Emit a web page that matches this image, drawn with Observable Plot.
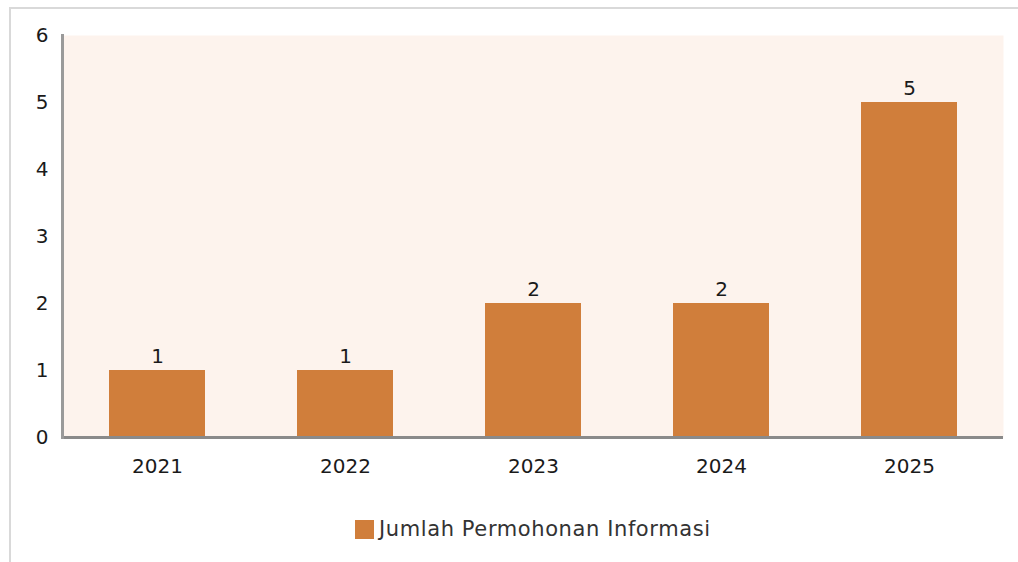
<!DOCTYPE html>
<html>
<head>
<meta charset="utf-8">
<script src="https://cdn.jsdelivr.net/npm/d3@7"></script>
<script src="https://cdn.jsdelivr.net/npm/@observablehq/plot@0.6"></script>
<style>
  html, body { margin: 0; padding: 0; background: #fff; width: 1018px; height: 562px; overflow: hidden; }
  #frame { position: absolute; left: 9px; top: 7px; width: 1009px; height: 555px;
           border-top: 2px solid #d9d9d9; border-left: 2px solid #d9d9d9; box-sizing: border-box; }
  #chart { position: absolute; left: 0; top: 0; }
  #legend { position: absolute; left: 0; top: 490px; width: 1018px; height: 72px;
            font-family: "DejaVu Sans", sans-serif; font-size: 21px; color: #333; letter-spacing: 0.6px; }
  #legend .item { position: absolute; left: 355px; top: 27px; display: flex; align-items: center; }
  #legend .sw { width: 19px; height: 19px; background: #d07e3b; margin-right: 5px; }
</style>
</head>
<body>
<div id="frame"></div>
<div id="chart"></div>
<div id="legend"><div class="item"><div class="sw"></div><span id="legtext"></span></div></div>
<script>
const years = ["2021", "2022", "2023", "2024", "2025"];
const values = [1, 1, 2, 2, 5];
const seriesName = "Jumlah Permohonan Informasi";
const yTicks = [0, 1, 2, 3, 4, 5, 6];

const data = years.map((y, i) => ({year: y, value: values[i]}));
document.getElementById("legtext").textContent = seriesName;

const chart = Plot.plot({
  width: 1018,
  height: 490,
  marginLeft: 62,
  marginRight: 15,
  marginTop: 35,
  marginBottom: 53,
  style: {fontFamily: "DejaVu Sans, sans-serif", fontSize: "20px", color: "#1a1a1a", background: "transparent"},
  x: {domain: years, paddingInner: 0.49, paddingOuter: 0.245, label: null},
  y: {domain: [0, 6], label: null},
  marks: [
    Plot.frame({fill: "#fdf3ed", stroke: null}),
    Plot.barY(data, {x: "year", y: "value", fill: "#d07e3b"}),
    Plot.text(data, {x: "year", y: "value", text: d => String(d.value), dy: -14, fill: "#1a1a1a", fontSize: 20}),
    Plot.ruleY([0], {stroke: "#8a8a8a", strokeWidth: 3}),
    Plot.frame({anchor: "left", stroke: "#9a9a9a", strokeWidth: 3}),
    Plot.axisX({tickSize: 0, tickPadding: 21, label: null, fontSize: 20}),
    Plot.axisY({ticks: yTicks, tickSize: 0, tickPadding: 14, label: null, tickFormat: d => String(d), fontSize: 20})
  ]
});
document.getElementById("chart").appendChild(chart);
</script>
</body>
</html>
